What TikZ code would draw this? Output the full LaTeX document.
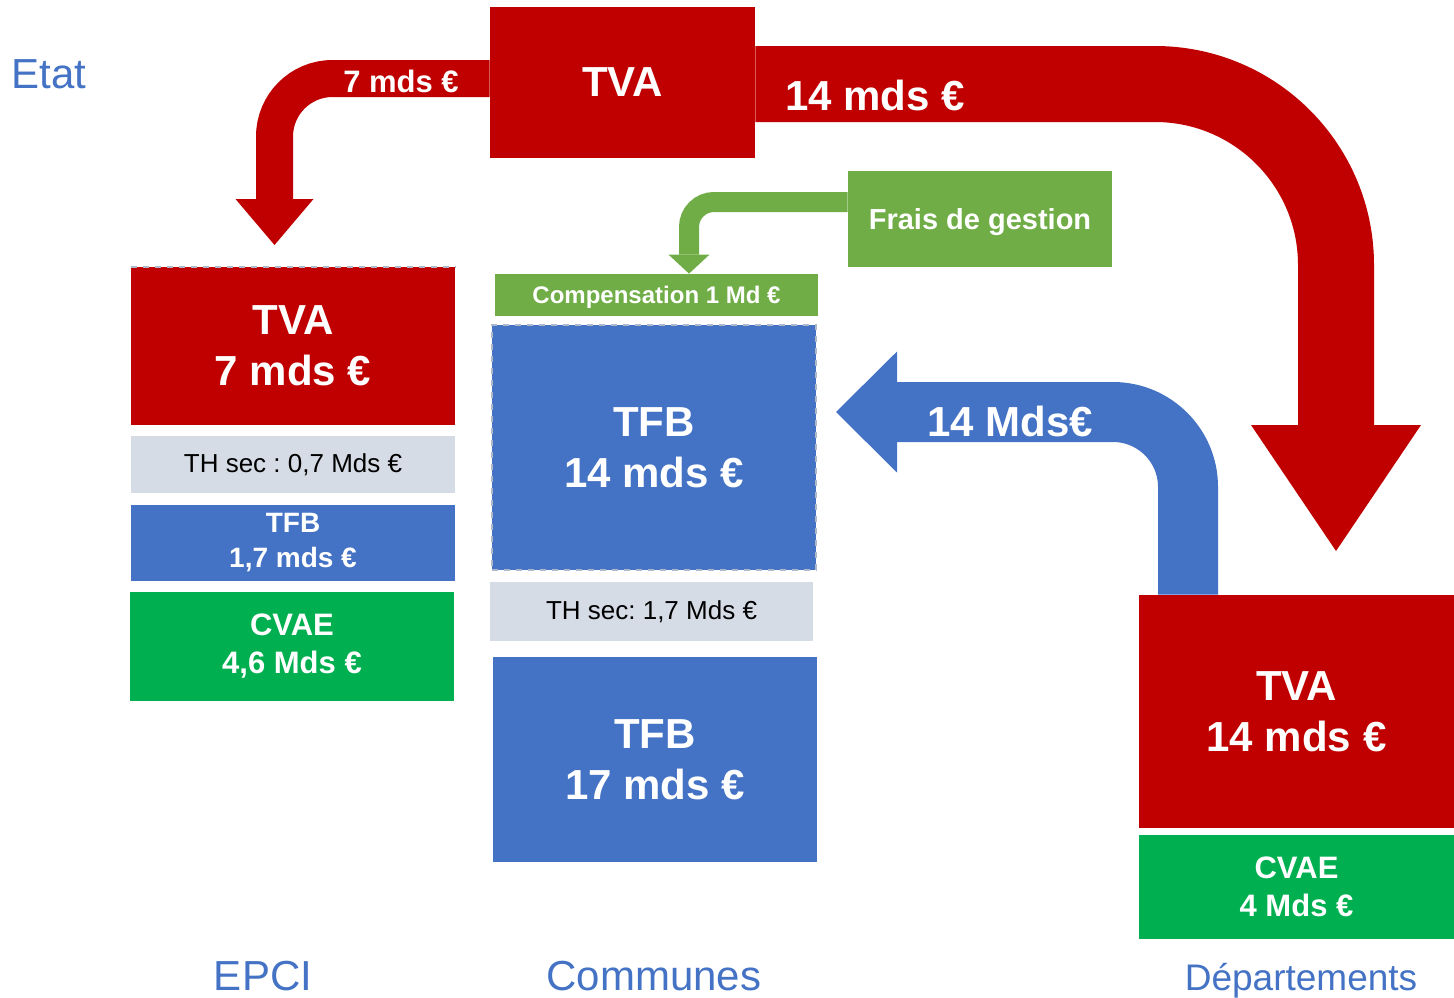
\documentclass[tikz,border=0pt]{standalone}
\usepackage{fontspec}
\setmainfont{Liberation Sans}
\usepackage{tikz}
\usetikzlibrary{arrows.meta}
\definecolor{fiscred}{HTML}{C00000}
\definecolor{fiscblue}{HTML}{4472C4}
\definecolor{fiscgreen}{HTML}{70AD47}
\definecolor{fiscvert}{HTML}{00B050}
\definecolor{fiscgrey}{HTML}{D6DCE5}
\definecolor{fiscline}{HTML}{ADB9CA}
\frenchspacing

\begin{document}
\begin{tikzpicture}[
  x=0.5pt,y=-0.5pt,
  bloc/.style={inner sep=0pt,align=center,text=white},
  gros/.style={font=\fontsize{21}{25.5}\selectfont\bfseries},
  moyen/.style={font=\fontsize{15.5}{19}\selectfont\bfseries},
  thsec/.style={bloc,fill=fiscgrey,text=black,font=\fontsize{13}{15.6}\selectfont},
  coupe/.style={draw=fiscline,dashed,line width=1pt},
  niveau/.style={text=fiscblue,font=\fontsize{21}{25}\selectfont,anchor=base}
]
\useasboundingbox (0,0) rectangle (1454,997);
\node[bloc,gros,fill=fiscred,minimum width=132.5pt,minimum height=75.5pt] (tvaetat) at (622.5,82.5) {TVA};
\node[bloc,gros,fill=fiscred,minimum width=162pt,minimum height=79pt] (epcitva) at (293,346) {TVA\\7 mds €};
\draw[coupe] (epcitva.north west) -- (epcitva.north east);
\node[thsec,minimum width=162pt,minimum height=28.5pt] (epcith) at (293,464.5) {TH sec : 0,7 Mds €};
\node[bloc,fill=fiscblue,font=\fontsize{14}{17.5}\selectfont\bfseries,minimum width=162pt,minimum height=38pt] (epcitfb) at (293,543) {TFB\\1,7 mds €};
\node[bloc,moyen,fill=fiscvert,minimum width=162pt,minimum height=54.5pt] (epcicvae) at (292,646.5) {CVAE\\4,6 Mds €};
\node[bloc,fill=fiscgreen,font=\fontsize{14.5}{17}\selectfont\bfseries,text depth=0pt,minimum width=132pt,minimum height=48pt] (frais) at (980,219) {Frais de gestion};
\node[bloc,fill=fiscgreen,font=\fontsize{12}{14}\selectfont\bfseries,text depth=0pt,minimum width=161.5pt,minimum height=21pt] (comp) at (656.5,295) {Compensation 1 Md €};
\node[bloc,gros,fill=fiscblue,coupe,minimum width=162pt,minimum height=122.5pt] (comtfb) at (654,447.5) {TFB\\14 mds €};
\node[thsec,minimum width=161.5pt,minimum height=29.5pt] (comth) at (651.5,611.5) {TH sec: 1,7 Mds €};
\node[bloc,gros,fill=fiscblue,minimum width=162pt,minimum height=102.5pt] (comtfbb) at (655,759.5) {TFB\\17 mds €};
\node[bloc,gros,fill=fiscred,minimum width=157.5pt,minimum height=116.5pt] (deptva) at (1296.5,711.5) {TVA\\14 mds €};
\node[bloc,moyen,fill=fiscvert,minimum width=157.5pt,minimum height=52pt] (depcvae) at (1296.5,887) {CVAE\\4 Mds €};
\coordinate (versepci) at (274.5,245);
\coordinate (versdep) at (1336,551);
\coordinate (verscomp) at ([xshift=16.25pt]comp.north);
\coordinate (verscom) at (836,412);
\draw[fiscred,line width=18.5pt,rounded corners=29pt,-{Triangle[length=23pt,width=39pt,line width=0pt]}] ([yshift=2pt]tvaetat.west) -| (versepci);
\draw[fiscred,line width=38pt,rounded corners=90.5pt,-{Triangle[length=63pt,width=85pt,line width=0pt]}] ([yshift=-0.75pt]tvaetat.east) -| (versdep);
\draw[fiscgreen,line width=10pt,rounded corners=12.5pt,-{Triangle[length=9.5pt,width=20.5pt,line width=0pt]}] ([yshift=8.5pt]frais.west) -| (verscomp);
\draw[fiscblue,line width=30pt,rounded corners=37.5pt,-{Triangle[length=30.5pt,width=60.5pt,line width=0pt]}] ([xshift=-54.25pt]deptva.north) |- (verscom);
\node[bloc,moyen] (sept) at (401,81) {7 mds €};
\node[bloc,gros] (quatorze) at (875,95) {14 mds €};
\node[bloc,gros] (retour) at (1010,421) {14 Mds€};
\node[niveau] (etat) at (49,88) {Etat};
\node[niveau] (epci) at (263,990) {EPCI};
\node[niveau] (communes) at (654,990) {Communes};
\node[niveau,font=\fontsize{18.5}{22}\selectfont] (dep) at (1301,990) {Départements};
\end{tikzpicture}
\end{document}
